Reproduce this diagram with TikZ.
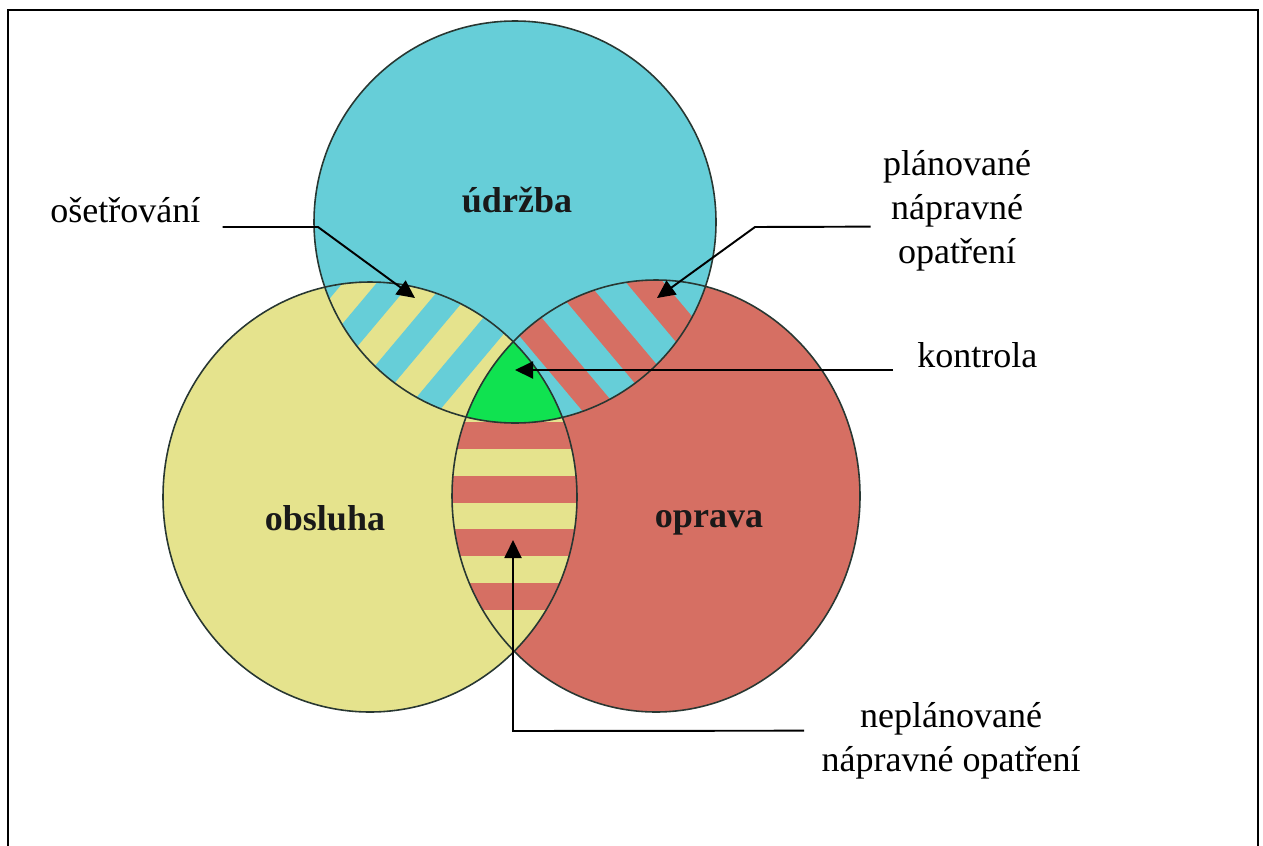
\documentclass[tikz,border=0pt]{standalone}
\usepackage{fontspec}
\setmainfont{Liberation Serif}
\usetikzlibrary{arrows.meta,calc}
\definecolor{udrzbacol}{RGB}{102,206,216}
\definecolor{obsluhacol}{RGB}{229,227,141}
\definecolor{opravacol}{RGB}{214,111,99}
\definecolor{kontrolacol}{RGB}{16,226,80}
\definecolor{rimcol}{RGB}{40,55,50}
\newcommand{\udrzbapath}{(515,222) circle [radius=201]}
\newcommand{\obsluhapath}{(370,497) ellipse [x radius=207, y radius=215]}
\newcommand{\opravapath}{(656,496) ellipse [x radius=204, y radius=216]}
\tikzset{
  setlabel/.style={font=\fontsize{20.5}{24}\selectfont\bfseries,text=black!90},
  callout/.style={font=\fontsize{20.5}{25}\selectfont,inner sep=0pt},
  pointer/.style={->,line width=1.1pt},
  rim/.style={draw=rimcol,line width=0.9pt}
}

\begin{document}
\begin{tikzpicture}[x=0.02cm,y=-0.02cm,>={Triangle[length=0.36cm,width=0.34cm]}]
        \useasboundingbox (0,0) rectangle (1263,845);
        \draw[line width=1.6pt] (8,10) rectangle (1258,900);
        \fill[obsluhacol] \obsluhapath;
        \fill[opravacol] \opravapath;
        \fill[udrzbacol] \udrzbapath;
        \begin{scope}
          \clip \udrzbapath;
          \clip \obsluhapath;
          \fill[obsluhacol] (300,250) rectangle (620,450);
          \foreach \k in {-5,...,5}
            \draw[udrzbacol,line width=0.52cm]
              ({415+(26+52*\k)*0.766-300*0.643},{298+(26+52*\k)*0.643+300*0.766}) --
              ({415+(26+52*\k)*0.766+300*0.643},{298+(26+52*\k)*0.643-300*0.766});
        \end{scope}
        \begin{scope}
          \clip \udrzbapath;
          \clip \opravapath;
          \fill[opravacol] (440,250) rectangle (740,450);
          \foreach \k in {-5,...,5}
            \draw[udrzbacol,line width=0.58cm]
              ({657+(29+58*\k)*0.766-300*0.643},{297-(29+58*\k)*0.643-300*0.766}) --
              ({657+(29+58*\k)*0.766+300*0.643},{297-(29+58*\k)*0.643+300*0.766});
        \end{scope}
        \begin{scope}
          \clip \obsluhapath;
          \clip \opravapath;
          \fill[obsluhacol] (440,330) rectangle (600,670);
          \foreach \k in {0,...,3}
            \fill[opravacol] (440,{422+53.5*\k}) rectangle (600,{449+53.5*\k});
        \end{scope}
        \begin{scope}
          \clip \udrzbapath;
          \clip \obsluhapath;
          \fill[kontrolacol] \opravapath;
        \end{scope}
        \draw[rim] \obsluhapath;
        \draw[rim] \opravapath;
        \draw[rim] \udrzbapath;
        \node[setlabel] (udrzba) at (517,200) {údržba};
        \node[setlabel] (obsluha) at (325,518) {obsluha};
        \node[setlabel] (oprava) at (709,523) {oprava};
        \node[callout,anchor=base west] (osetrovani) at (50,222) {ošetřování};
        \node[callout,align=center,anchor=north] (planovane) at (957,150) {plánované\\nápravné\\opatření};
        \node[callout,anchor=base west] (kontrola) at (917,367) {kontrola};
        \node[callout,align=center,anchor=north] (neplanovane) at (951,702) {neplánované\\nápravné opatření};
        \coordinate (osetrovaniBend) at (318,227);
        \coordinate (osetrovaniTip) at (415,298);
        \coordinate (planovaneBend) at (755,227);
        \coordinate (planovaneTip) at (657,298);
        \coordinate (kontrolaTip) at (515,370);
        \coordinate (neplanovaneBend) at (513,731);
        \coordinate (neplanovaneTip) at (513,540);
        \draw[pointer] ($(osetrovani.base east)+(22,5)$) -- (osetrovaniBend) -- (osetrovaniTip);
        \draw[pointer] ($(planovane.west)+(-12,16)$) -- (planovaneBend) -- (planovaneTip);
        \draw[pointer] ($(kontrola.base west)+(-24,3)$) -- (kontrolaTip);
        \draw[pointer] ($(neplanovane.west)+(-17,-10)$) -- (neplanovaneBend) -- (neplanovaneTip);
      \end{tikzpicture}
\end{document}
